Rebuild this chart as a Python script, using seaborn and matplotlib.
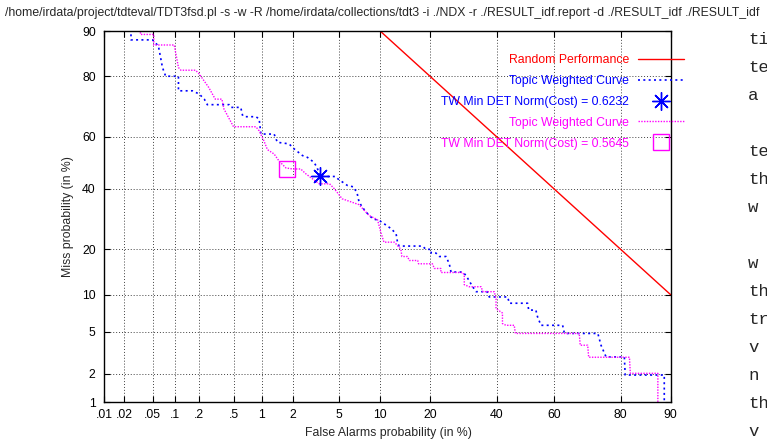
import numpy as np
import matplotlib
matplotlib.use("Agg")
import matplotlib.pyplot as plt
from matplotlib.lines import Line2D
import seaborn as sns
from statistics import NormalDist

# tick values (in %) and their labels
fa_ticks = [0.01, 0.02, 0.05, 0.1, 0.2, 0.5, 1, 2, 5, 10, 20, 40, 60, 80, 90]
fa_labels = ['.01', '.02', '.05', '.1', '.2', '.5', '1', '2', '5', '10', '20', '40', '60', '80', '90']
miss_ticks = [1, 2, 5, 10, 20, 40, 60, 80, 90]
miss_labels = ['1', '2', '5', '10', '20', '40', '60', '80', '90']

# random performance line end points
random_fa = [10, 90]
random_miss = [90, 10]

# topic weighted curve (blue run)
blue_fa = [0.025, 0.025, 0.05, 0.06, 0.068, 0.075, 0.11, 0.11, 0.165, 0.2,
           0.23, 0.25, 0.45, 0.47, 0.6, 0.63, 0.68, 0.87, 0.94, 0.98,
           1.33, 1.43, 1.85, 2.06, 2.46, 2.72, 3.1, 3.3, 3.5, 4.7,
           4.9, 5.8, 6.5, 6.9, 7.1, 7.5, 8.2, 8.9, 9.9, 10.6,
           11.8, 12.7, 13.0, 13.3, 18.2, 19.0, 20.3, 20.3, 21.5, 22.4,
           24.2, 25.1, 25.6, 29.0, 30.0, 32.1, 33.2, 36.8, 37.5, 43.8,
           44.4, 50.8, 51.2, 53.7, 54.3, 55.5, 62.9, 63.5, 73.9, 74.8,
           76.2, 80.9, 81.1, 89.0, 89.0]
blue_miss = [92, 88.4, 88.4, 87.2, 82.3, 80, 80, 75.8, 75.8, 74.8,
             73.2, 71.4, 71.4, 70.5, 70.5, 67.6, 67.3, 67.3, 66.5, 61,
             61, 57.9, 57.3, 55.4, 52.8, 52.1, 50.2, 48.2, 44.7, 44.7,
             43.8, 41.3, 40.7, 38.1, 35.3, 33.3, 31, 29.3, 28.7, 27.7,
             26.1, 24.5, 21.6, 20.9, 20.9, 20.0, 20.0, 19.0, 19.0, 18.1,
             18.1, 16.3, 14.4, 14.4, 13.7, 11.4, 10.5, 10.5, 9.6, 9.6,
             8.6, 8.6, 7.6, 7.6, 6.7, 5.7, 5.7, 4.85, 4.85, 3.8,
             2.95, 2.95, 1.95, 1.95, 0.5]

# topic weighted curve (magenta run)
mag_fa = [0.034, 0.034, 0.052, 0.052, 0.097, 0.11, 0.118, 0.18, 0.2, 0.26,
          0.31, 0.37, 0.39, 0.5, 0.87, 0.94, 1.05, 1.14, 1.33, 1.49,
          1.73, 2.0, 2.37, 2.64, 3.44, 4.2, 4.6, 5.3, 7.1, 8.4,
          9.6, 10.1, 10.6, 12.4, 13.6, 13.8, 14.9, 15.3, 17.1, 17.3,
          20.6, 21.1, 22.8, 22.8, 29.0, 29.5, 29.5, 31.0, 34.8, 35.4,
          39.2, 39.8, 39.8, 42.0, 42.0, 43.2, 46.1, 46.5, 68.3, 68.6,
          70.9, 71.2, 82.1, 82.3, 87.9, 87.9]
mag_miss = [92, 89.4, 89.4, 87.4, 87.4, 82.3, 81.6, 81.6, 80.6, 76.8,
            73.2, 73.2, 70.0, 63.7, 63.7, 62.2, 58.5, 55.1, 53.4, 50.6,
            48.0, 47.6, 47.6, 45.7, 41.9, 41.9, 40.0, 36.3, 34.2, 30.4,
            29.0, 25.0, 22.0, 22.0, 20.0, 18.1, 18.1, 17.1, 17.1, 16.3,
            16.3, 15.2, 15.2, 14.3, 14.3, 13.7, 11.8, 11.4, 11.4, 10.5,
            10.5, 9.3, 7.8, 7.2, 5.9, 5.7, 5.7, 4.85, 4.85, 3.8,
            3.8, 2.93, 2.93, 2.03, 2.03, 0.5]

# minimum cost points
blue_min_fa, blue_min_miss = 3.5, 44.7
mag_min_fa, mag_min_miss = 1.76, 47.4

title = ("/home/irdata/project/tdteval/TDT3fsd.pl -s -w -R /home/irdata/collections/tdt3 "
         "-i ./NDX -r ./RESULT_idf.report -d ./RESULT_idf ./RESULT_idf")
side_text = ['ti', 'te', 'a', '', 'te', 'th', 'w', '', 'w', 'th', 'tr', 'v', 'n', 'th', 'v']

_nd = NormalDist()


def probit(pct):
    return np.array([_nd.inv_cdf(p / 100.0) for p in np.atleast_1d(pct)])


sns.set_style("ticks")
plt.rcParams['font.family'] = ['Liberation Sans', 'DejaVu Sans']

W, H = 767, 443
fig = plt.figure(figsize=(W / 100, H / 100), dpi=100)
left, right, top, bottom = 104, 670.5, 31, 402
ax = fig.add_axes([left / W, 1 - bottom / H, (right - left) / W, (bottom - top) / H])

# curves
sns.lineplot(x=probit(random_fa), y=probit(random_miss), ax=ax, color='#ff0000',
             lw=1.0, sort=False, estimator=None)
sns.lineplot(x=probit(blue_fa), y=probit(blue_miss), ax=ax, color='#0000ff',
             lw=1.2, sort=False, estimator=None)
ax.lines[-1].set_linestyle((0, (1.2, 2.0)))
sns.lineplot(x=probit(mag_fa), y=probit(mag_miss), ax=ax, color='#ff00ff',
             lw=1.0, sort=False, estimator=None)
ax.lines[-1].set_linestyle((0, (1, 1)))

ax.plot(probit(blue_min_fa), probit(blue_min_miss), marker=(8, 2, 0), ms=13,
        mew=1.0, color='#0000ff', ls='none')
ax.plot(probit(blue_min_fa), probit(blue_min_miss), marker='o', ms=3,
        color='#0000ff', ls='none')
ax.plot(probit(mag_min_fa), probit(mag_min_miss), marker='s', ms=12, mew=1.0,
        mfc='none', color='#ff00ff', ls='none')

ax.set_xlim(probit(0.01)[0], probit(90)[0])
ax.set_ylim(probit(1)[0], probit(90)[0])
ax.set_xticks(probit(fa_ticks))
ax.set_xticklabels(fa_labels)
ax.set_yticks(probit(miss_ticks))
ax.set_yticklabels(miss_labels)
ax.tick_params(direction='in', length=4, width=0.8, top=True, right=True,
               labelsize=8.8, colors='black')
ax.tick_params(axis='x', pad=5)
ax.tick_params(axis='y', pad=6)
ax.grid(True, color='0.25', lw=0.7, ls=(0, (1, 2)))
for s in ax.spines.values():
    s.set_color('black')
    s.set_linewidth(1.0)

ax.set_xlabel('False Alarms probability (in %)', fontsize=8.8)
ax.set_ylabel('Miss probability (in %)', fontsize=8.8)
ax.xaxis.set_label_coords((388 - left) / (right - left), -(427 - bottom) / (bottom - top))
ax.yaxis.set_label_coords(-(left - 74) / (right - left), 0.5)

# gnuplot-like key: text first, sample on the right
handles = [
    Line2D([], [], color='#ff0000', lw=1.0),
    Line2D([], [], color='#0000ff', lw=1.2, ls=(0, (1.2, 2.0))),
    Line2D([], [], color='#0000ff', marker=(8, 2, 0), ms=13, ls='none'),
    Line2D([], [], color='#ff00ff', lw=1.0, ls=(0, (1, 1))),
    Line2D([], [], color='#ff00ff', marker='s', ms=12, mfc='none', ls='none'),
]
labels = ['Random Performance', 'Topic Weighted Curve', 'TW Min DET Norm(Cost) = 0.6232',
          'Topic Weighted Curve', 'TW Min DET Norm(Cost) = 0.5645']
fig.legend(handles, labels, loc='upper right', bbox_to_anchor=(684 / W, 1 - 54 / H),
           markerfirst=False, frameon=False, fontsize=8.8, handlelength=3.8,
           handletextpad=0.7, labelspacing=0.73, borderpad=0, borderaxespad=0,
           labelcolor=['#ff0000', '#0000ff', '#0000ff', '#ff00ff', '#ff00ff'])

fig.text(5 / W, 1 - 13 / H, title, fontsize=8.85, ha='left', va='center')

for i, t in enumerate(side_text):
    if t:
        fig.text(748 / W, 1 - (40 + 28 * i) / H, t, fontsize=12.5, ha='left', va='center',
                 family=['Liberation Mono', 'DejaVu Sans Mono'])

fig.savefig('out.png', dpi=100)
